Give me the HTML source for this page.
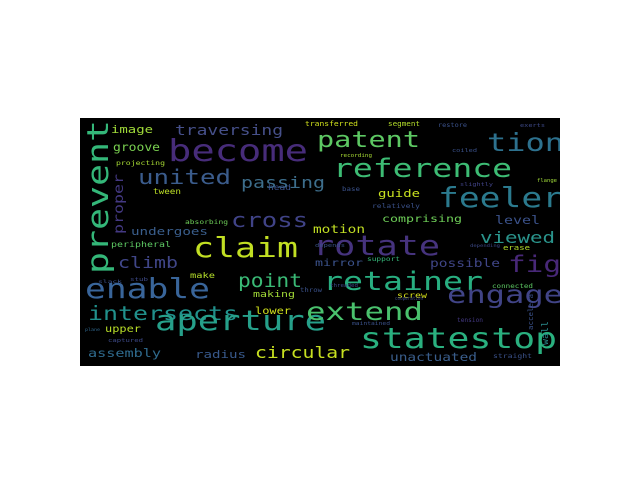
<!DOCTYPE html>
<html><head><meta charset="utf-8"><style>
html,body{margin:0;padding:0;background:#fff;width:640px;height:480px;overflow:hidden}
svg text{font-family:"DejaVu Sans Mono","Liberation Mono",monospace}
</style></head><body>
<svg id="c" width="640" height="480" viewBox="0 0 640 480" xmlns="http://www.w3.org/2000/svg">
<rect x="80" y="118" width="480" height="248" fill="#000"/>
<g id="words" clip-path="url(#clip)"></g>
<defs><clipPath id="clip"><rect x="80" y="118" width="480" height="248"/></clipPath></defs>
</svg>
<script>
const words = ["prevent","image","traversing","become","groove","projecting","united","passing","proper","tween","head","cross","absorbing","undergoes","peripheral","claim","climb","make","point","enable","making","intersects","lower","aperture","upper","captured","assembly","radius","circular","transferred","segment","restore","exerts","patent","tion","recording","coiled","reference","slightly","flange","base","guide","feeler","relatively","comprising","level","motion","viewed","rotate","erase","fig","mirror","support","possible","retainer","connected","screw","extend","engage","maintained","tension","statestop","unactuated","straight","wall","accelera","depends","stub","throw","threaded","slack","cooperation","plane","depending"];
const xs = [108,111,175,168,113,116,138,241,123,153,268,231,185,131,111,193,118,190,238,85,253,88,255,155,105,108,88,195,255,305,388,438,520,317,487,340,452,333,460,537,342,378,438,372,382,495,313,480,313,503,508,315,367,430,323,492,397,306,447,352,457,360,390,493,548,533,315,130,300,330,98,395,85,470];
const ys = [274,133,135,161,151,165,184,188,234,194,190,227,224,235,247,257,268,278,287,298,297,320,314,330,332,342,357,358,358,126,126,127,127,147,151,157,152,177,186,182,191,197,207,208,222,224,233,243,255,250,272,266,261,267,290,288,298,320,303,325,322,348,361,358,345,330,247,281,292,287,283,300,331,247];
const sizes = [38,14,18,39,15,8,26,20,17,10,10,26,8,14,10,35,20,10,24,35,11.5,25,13,35,12,7,15,14,20,8.5,9,8,7,29,32,6.5,7,33,7,7,8,14,35,8,13,15,14.5,21,35,9,30,13,8,14.5,33,7.5,10,32,32,6.5,8,36,14.5,8,11,9,7,7,8,7,6,7,6,6];
const widths = [154,42,108,140,47,49,93,84,60,28,23,77,43,77,60,105,60,25,64,125,42,150,36,171,36,35,73,51,95,53,32,29,25,103,77,32,25,179,33,20,18,42,125,48,80,45,52,75,127,27,53,48,33,70,160,41,30,117,116,38,26,197,87,39,24,36,30,18,22,28,24,28,15,30];
const colors = ["#34b779","#a0da39","#46508a","#472c7a","#7ad151","#a8db34","#3b5c8c","#3d6e8c","#443983","#bddf26","#3b528b","#404387","#6ece58","#3a5e8c","#5dc863","#c2df23","#404688","#b5de2b","#3aba76","#39659a","#a2da37","#21918c","#d0e11c","#26a08a","#b9de28","#3e4a89","#2f6b8e","#38598c","#c7e020","#d0e11c","#b5de2b","#3b528b","#3e4a89","#5dc863","#2d718e","#a8db34","#3b528b","#3dbc74","#404387","#a0da39","#3b528b","#c8e020","#2b7a8e","#3b528b","#6ece58","#3b528b","#c2df23","#2a948c","#46337e","#b5de2b","#482878","#3b528b","#35b779","#404688","#28ae80","#5dc863","#d8e219","#4ac16d","#414487","#3b528b","#443983","#2ab07f","#3a5e8c","#3b528b","#2a8a8c","#3b528b","#3b528b","#3e4a89","#3b528b","#3e4a89","#3b528b","#3e4a89","#31688e","#3e4a89"];
const rotated = ["prevent","proper","wall","accelera"];
const SCALE = 0.78;
const g = document.getElementById('words');
for (let i = 0; i < words.length; i++) {
  const t = document.createElementNS('http://www.w3.org/2000/svg', 'text');
  
  
  t.setAttribute('font-size', sizes[i] * SCALE);
  t.setAttribute('fill', colors[i]);
  t.setAttribute('textLength', widths[i]);
  t.setAttribute('lengthAdjust', 'spacingAndGlyphs');
  if (rotated.includes(words[i])) {
    t.setAttribute('x', 0); t.setAttribute('y', 0);
    t.setAttribute('transform', 'translate(' + xs[i] + ',' + ys[i] + ') rotate(-90)');
  } else {
    t.setAttribute('x', xs[i]); t.setAttribute('y', ys[i]);
  }
  t.textContent = words[i];
  g.appendChild(t);
}
</script>
</body></html>
